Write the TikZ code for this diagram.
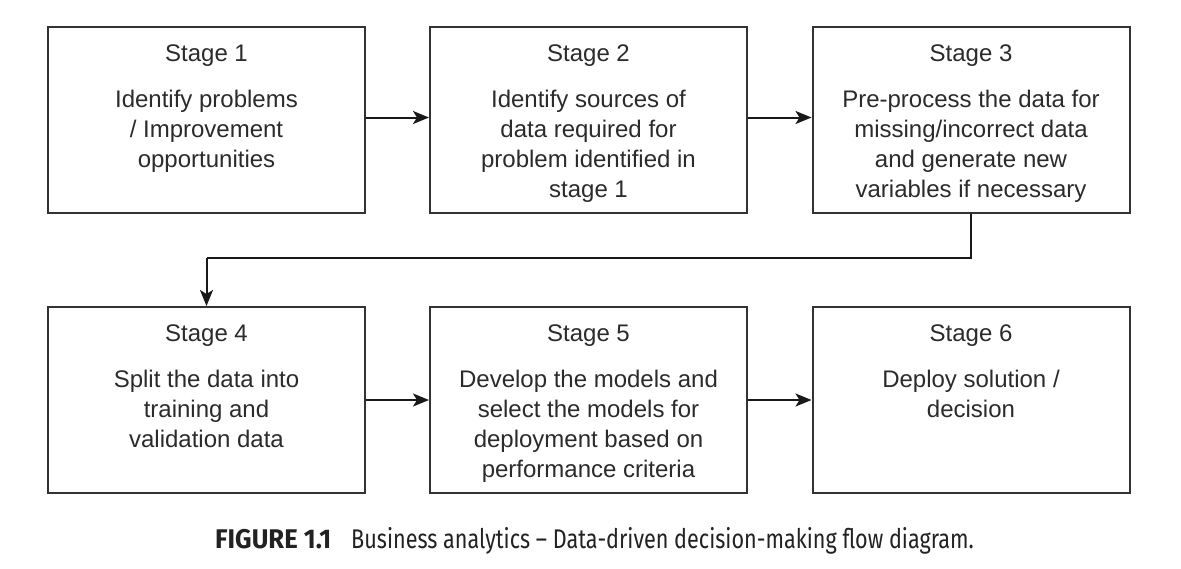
\documentclass[tikz,border=0pt]{standalone}
\usepackage{fontspec}
\setmainfont{Liberation Sans}
\newfontfamily\capfont[FakeStretch=0.80, BoldFeatures={FakeStretch=0.95}]{Fira Sans}
\usetikzlibrary{arrows.meta}
\definecolor{linec}{HTML}{333333}
\definecolor{textc}{HTML}{2B2B2B}
\tikzset{
  box/.style={draw=linec, line width=2pt, minimum width=317pt, minimum height=186pt, inner sep=0pt, fill=white},
  ttl/.style={anchor=base, text=textc, inner sep=0pt, font=\fontsize{24}{30}\selectfont},
  bdy/.style={anchor=north, text=textc, inner sep=0pt, align=center, font=\fontsize{24}{30}\selectfont},
  conn/.style={draw=black!90, line width=2pt, -{Stealth[length=16pt,width=13pt,inset=4pt]}},
  captext/.style={anchor=base west, text=textc!80!black, inner sep=0pt, font=\capfont\fontsize{27}{30}\selectfont}
}
\begin{document}
\begin{tikzpicture}[x=1pt,y=-1pt]
\useasboundingbox (0,0) rectangle (1181,568);
\node[box] (b1) at (206.5,120) {};
\node[box] (b2) at (588.5,120) {};
\node[box] (b3) at (971,120) {};
\node[box] (b4) at (206.5,400) {};
\node[box] (b5) at (588.5,400) {};
\node[box] (b6) at (971,400) {};
\node[ttl] (t1) at ([yshift=-35.5pt]b1.north) {Stage 1};
\node[ttl] (t2) at ([yshift=-35.5pt]b2.north) {Stage 2};
\node[ttl] (t3) at ([yshift=-35.5pt]b3.north) {Stage 3};
\node[ttl] (t4) at ([yshift=-35.5pt]b4.north) {Stage 4};
\node[ttl] (t5) at ([yshift=-35.5pt]b5.north) {Stage 5};
\node[ttl] (t6) at ([yshift=-35.5pt]b6.north) {Stage 6};
\node[bdy] (d1) at ([yshift=-63.5pt]b1.north) {Identify problems\\/ Improvement\\opportunities};
\node[bdy] (d2) at ([yshift=-63.5pt]b2.north) {Identify sources of\\data required for\\problem identified in\\stage 1};
\node[bdy] (d3) at ([yshift=-63.5pt]b3.north) {Pre-process the data for\\missing/incorrect data\\and generate new\\variables if necessary};
\node[bdy] (d4) at ([yshift=-63.5pt]b4.north) {Split the data into\\training and\\validation data};
\node[bdy] (d5) at ([yshift=-63.5pt]b5.north) {Develop the models and\\select the models for\\deployment based on\\performance criteria};
\node[bdy] (d6) at ([yshift=-63.5pt]b6.north) {Deploy solution /\\decision};
\coordinate (k1) at (971,257.5);
\coordinate (k2) at (206.5,257.5);
\draw[conn] ([yshift=2.5pt]b1.east) -- ([yshift=2.5pt]b2.west);
\draw[conn] ([yshift=2.5pt]b2.east) -- ([yshift=2.5pt]b3.west);
\draw[conn, arrows=-] (b3.south) -- (k1) -- (k2);
\draw[conn] (k2) -- (b4.north);
\draw[conn] (b4.east) -- (b5.west);
\draw[conn] (b5.east) -- (b6.west);
\node[captext] (c) at (215,548) {\textbf{FIGURE 1.1}\hspace{20pt}Business analytics – Data-driven decision-making flow diagram.};
\end{tikzpicture}
\end{document}
